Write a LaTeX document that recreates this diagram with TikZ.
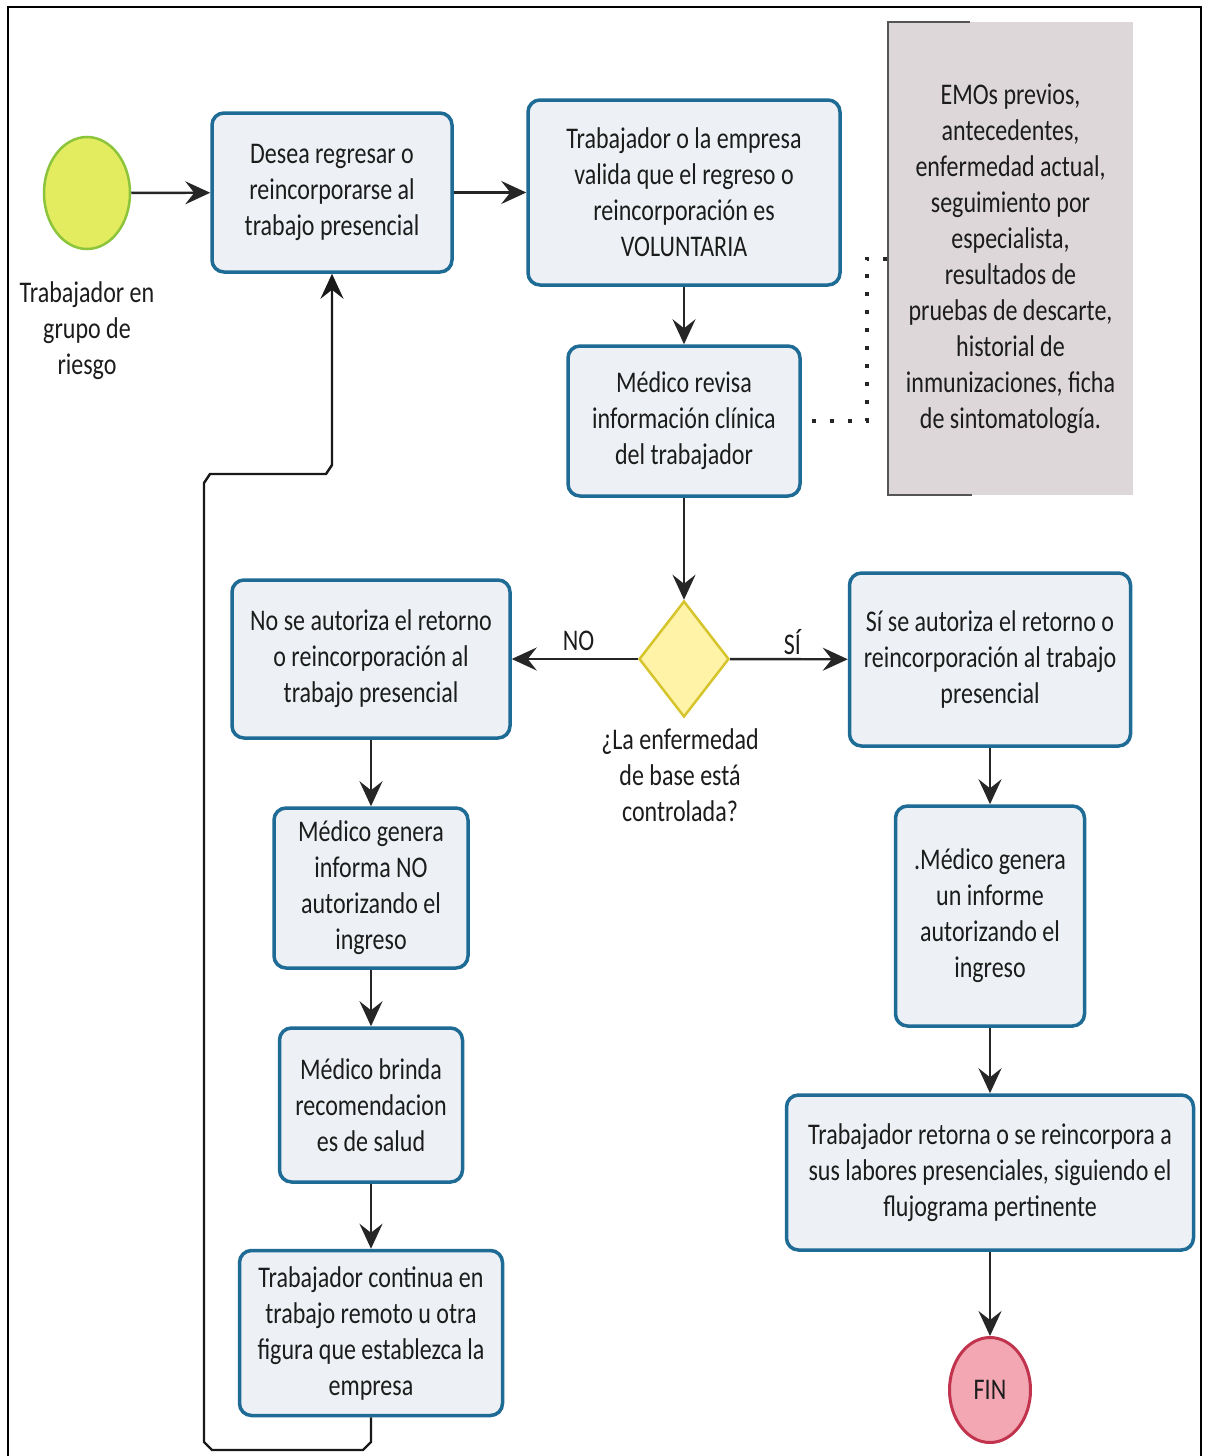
\documentclass[tikz,border=0pt]{standalone}
\usepackage{fontspec}
\setmainfont{Carlito}[FakeStretch=0.8]
\usetikzlibrary{shapes.geometric,arrows.meta}
\definecolor{boxfill}{HTML}{EDF1F5}
\definecolor{boxline}{HTML}{1E6B95}
\definecolor{txtc}{HTML}{1C1C1C}
\definecolor{startfill}{HTML}{E3EC5E}
\definecolor{startline}{HTML}{8CC43C}
\definecolor{endfill}{HTML}{F2A7B3}
\definecolor{endline}{HTML}{C2344E}
\definecolor{diafill}{HTML}{FFF3A8}
\definecolor{dialine}{HTML}{D6C42C}
\definecolor{annfill}{HTML}{DDD7D9}
\definecolor{annline}{HTML}{555555}
\newcommand\diagfont{\fontsize{30}{36}\selectfont}
\begin{document}
\begin{tikzpicture}[x=1pt,y=-1pt,
  proc/.style={draw=boxline, line width=3.5pt, fill=boxfill, rounded corners=12pt,
               align=center, text=txtc, inner sep=0pt, font=\diagfont},
  plain/.style={align=center, text=txtc, inner sep=0pt, font=\diagfont},
  flow/.style={line width=2.4pt, draw=black!85,
               -{Stealth[length=25pt,width=23pt,inset=9pt]}},
  loopline/.style={line width=2.4pt, draw=black!90,
               -{Stealth[length=25pt,width=23pt,inset=9pt]}},
  assoc/.style={line width=4pt, draw=black!85, dash pattern=on 4pt off 14pt, dash phase=-10pt}
]
\useasboundingbox (0,0) rectangle (1208,1456);
\fill[white] (0,0) rectangle (1208,1456);
% frame
\draw[line width=1.8pt] (8,1460) -- (8,7) -- (1201,7) -- (1201,1460);

% annotation
\node[fill=annfill, minimum width=245pt, minimum height=473pt, inner sep=0pt,
      align=center, text=txtc, font=\diagfont] (ann) at (1010.5,258.5)
  {EMOs previos,\\antecedentes,\\enfermedad actual,\\seguimiento por\\especialista,\\resultados de\\pruebas de descarte,\\historial de\\inmunizaciones, ficha\\de sintomatología.};
\draw[line width=1.8pt, draw=annline] ([xshift=82pt]ann.north west) -- (ann.north west) -- (ann.south west) -- ([xshift=84pt]ann.south west);

% start / end
\node[ellipse, minimum width=86pt, minimum height=112pt, fill=startfill, draw=startline, line width=2.5pt] (start) at (87,193) {};
\node[plain] (startlbl) at (87,331) {Trabajador en\\grupo de\\riesgo};

% boxes
\node[proc, minimum width=240pt, minimum height=159pt] (b1) at (332,192.5) {Desea regresar o\\reincorporarse al\\trabajo presencial};
\node[proc, minimum width=312pt, minimum height=185pt] (b2) at (684,192.5) {Trabajador o la empresa\\valida que el regreso o\\reincorporación es\\VOLUNTARIA};
\node[proc, minimum width=232pt, minimum height=150pt] (b3) at (684,421) {Médico revisa\\información clínica\\del trabajador};
\node[diamond, minimum width=90pt, minimum height=116pt, inner sep=0pt, fill=diafill, draw=dialine, line width=2.5pt] (dia) at (684,659) {};
\node[plain] (dialbl) at (680,775) {¿La enfermedad\\de base está\\controlada?};

\node[proc, minimum width=278pt, minimum height=158pt] (no1) at (371,659) {No se autoriza el retorno\\o reincorporación al\\trabajo presencial};
\node[proc, minimum width=194pt, minimum height=160pt] (no2) at (371,888) {Médico genera\\informa NO\\autorizando el\\ingreso};
\node[proc, minimum width=183pt, minimum height=154pt] (no3) at (371,1105) {Médico brinda\\recomendacion\\es de salud};
\node[proc, minimum width=263pt, minimum height=165pt] (no4) at (371,1333) {Trabajador continua en\\trabajo remoto u otra\\figura que establezca la\\empresa};

\node[proc, minimum width=281pt, minimum height=173pt] (si1) at (990,659.5) {Sí se autoriza el retorno o\\reincorporación al trabajo\\presencial};
\node[proc, minimum width=189pt, minimum height=220pt] (si2) at (990,916) {.Médico genera\\un informe\\autorizando el\\ingreso};
\node[proc, minimum width=407pt, minimum height=155pt] (si3) at (990,1172.5) {Trabajador retorna o se reincorpora a\\sus labores presenciales, siguiendo el\\flujograma pertinente};
\node[ellipse, minimum width=81pt, minimum height=105pt, fill=endfill, draw=endline, line width=3pt, text=txtc, font=\diagfont, inner sep=0pt] (fin) at (990,1390) {FIN};

% connectors
\draw[flow] (start) -- (b1);
\draw[flow] (b1) -- (b2);
\draw[flow] (b2) -- (b3);
\draw[flow] (b3) -- (dia);
\draw[flow] (dia) -- node[plain, pos=0.47, yshift=18pt] (nolbl) {NO} (no1);
\draw[flow] (dia) -- node[plain, pos=0.53, yshift=17pt] (silbl) {SÍ} (si1);
\draw[flow] (no1) -- (no2);
\draw[flow] (no2) -- (no3);
\draw[flow] (no3) -- (no4);
\draw[flow] (si1) -- (si2);
\draw[flow] (si2) -- (si3);
\draw[flow] (si3) -- (fin);

% loop back
\coordinate (l1) at (371,1442);
\coordinate (l2) at (363,1450);
\coordinate (l3) at (212,1450);
\coordinate (l4) at (204,1442);
\coordinate (l5) at (204,483);
\coordinate (l6) at (210,474);
\coordinate (l7) at (326,474);
\coordinate (l8) at (332,465);
\draw[loopline] (no4.south) -- (l1) -- (l2) -- (l3) -- (l4) -- (l5) -- (l6) -- (l7) -- (l8) -- (b1.south);

% association (dotted)
\coordinate (a1) at (867,421);
\draw[assoc] (b3.east) -- (a1) |- (ann.west);
\end{tikzpicture}
\end{document}
